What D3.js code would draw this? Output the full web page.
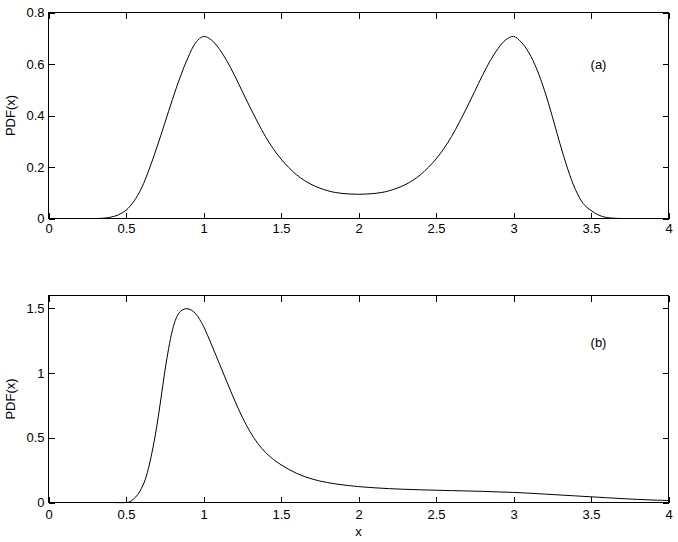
<!DOCTYPE html>
<html>
<head>
<meta charset="utf-8">
<script src="https://cdn.jsdelivr.net/npm/d3@7"></script>
<style>
  html, body { margin: 0; padding: 0; background: #fff; }
  svg text { font-family: "Liberation Sans", Arial, Helvetica, sans-serif; font-size: 13px; fill: #000; }
</style>
</head>
<body>
<svg id="chart" width="678" height="542"></svg>
<script>
// ---- Data ----
const xTicks = [0, 0.5, 1, 1.5, 2, 2.5, 3, 3.5, 4];
const yTicksA = [0, 0.2, 0.4, 0.6, 0.8];
const yTicksB = [0, 0.5, 1, 1.5];

const xA = [0.30,0.35,0.40,0.45,0.50,0.55,0.60,0.65,0.70,0.75,0.80,0.85,0.90,0.95,1.00,
            1.05,1.10,1.15,1.20,1.25,1.30,1.35,1.40,1.45,1.50,1.55,1.60,1.65,1.70,1.75,1.80,1.85,1.90,1.95,2.00,
            2.05,2.10,2.15,2.20,2.25,2.30,2.35,2.40,2.45,2.50,2.55,2.60,2.65,2.70,2.75,2.80,2.85,2.90,2.95,3.00,
            3.05,3.10,3.15,3.20,3.25,3.30,3.35,3.40,3.45,3.50,3.55,3.60,3.65,3.70];
const pdfA = [0.000,0.001,0.005,0.014,0.032,0.066,0.118,0.192,0.278,0.370,0.463,0.550,0.625,0.683,0.707,
              0.694,0.660,0.613,0.556,0.494,0.432,0.373,0.318,0.271,0.231,0.198,0.170,0.148,0.131,0.118,0.108,0.101,0.097,0.095,0.094,
              0.095,0.097,0.101,0.108,0.118,0.131,0.148,0.170,0.198,0.231,0.271,0.318,0.373,0.432,0.494,0.556,0.613,0.660,0.694,0.707,
              0.685,0.643,0.580,0.497,0.397,0.290,0.192,0.112,0.058,0.031,0.013,0.004,0.001,0.000];

const xB = [0.30,0.40,0.50,0.525,0.55,0.575,0.60,0.625,0.65,0.675,0.70,0.725,0.75,0.775,0.80,0.825,0.85,0.875,0.90,0.925,0.95,0.975,
            1.00,1.05,1.10,1.15,1.20,1.25,1.30,1.35,1.40,1.45,1.50,1.55,1.60,1.65,1.70,1.75,1.80,1.85,1.90,1.95,2.00,
            2.10,2.20,2.30,2.40,2.50,2.60,2.70,2.80,2.90,3.00,3.10,3.20,3.30,3.40,3.50,3.60,3.70,3.80,3.90,4.00];
const pdfB = [0.000,0.000,0.000,0.006,0.028,0.060,0.110,0.180,0.290,0.430,0.600,0.800,1.010,1.190,1.335,1.428,1.476,1.495,1.497,1.485,1.458,1.415,
              1.362,1.225,1.080,0.935,0.792,0.660,0.548,0.457,0.387,0.334,0.292,0.256,0.226,0.201,0.182,0.166,0.154,0.144,0.136,0.129,0.123,
              0.114,0.107,0.102,0.098,0.095,0.092,0.089,0.086,0.082,0.078,0.072,0.065,0.058,0.051,0.044,0.037,0.030,0.024,0.019,0.015];

// ---- Layout ----
const svg = d3.select("#chart");
const left = 48.5, right = 668.5;
const panels = [
  { top: 12.5, bottom: 218.5, ymax: 0.8, yTicks: yTicksA, xs: xA, ys: pdfA, tag: "(a)", tagY: 69, xPad: 5, xlabel: false },
  { top: 295.5, bottom: 502.5, ymax: 1.6, yTicks: yTicksB, xs: xB, ys: pdfB, tag: "(b)", tagY: 346.5, xPad: 7, xlabel: true }
];

const x = d3.scaleLinear().domain([0, 4]).range([left, right]);

panels.forEach(p => {
  const y = d3.scaleLinear().domain([0, p.ymax]).range([p.bottom, p.top]);
  const g = svg.append("g");

  const gb = g.append("g").attr("transform", `translate(0,${p.bottom})`)
    .call(d3.axisBottom(x).tickValues(xTicks).tickFormat(d3.format("")).tickSizeInner(-6).tickSizeOuter(0).tickPadding(p.xPad));
  const gt = g.append("g").attr("transform", `translate(0,${p.top})`)
    .call(d3.axisTop(x).tickValues(xTicks).tickFormat("").tickSizeInner(-6).tickSizeOuter(0));
  const gl = g.append("g").attr("transform", `translate(${left},0)`)
    .call(d3.axisLeft(y).tickValues(p.yTicks).tickFormat(d3.format("")).tickSizeInner(-6).tickSizeOuter(0).tickPadding(4));
  const gr = g.append("g").attr("transform", `translate(${right},0)`)
    .call(d3.axisRight(y).tickValues(p.yTicks).tickFormat("").tickSizeInner(-6).tickSizeOuter(0));

  [gb, gt, gl, gr].forEach(a => {
    a.select(".domain").remove();
    a.selectAll("line").attr("stroke", "#000").attr("shape-rendering", "crispEdges");
    a.selectAll("text").attr("font-size", 13).attr("font-family", '"Liberation Sans", Arial, sans-serif').attr("fill", "#000");
  });

  g.append("rect")
    .attr("x", left).attr("y", p.top)
    .attr("width", right - left).attr("height", p.bottom - p.top)
    .attr("fill", "none").attr("stroke", "#000").attr("stroke-width", 1)
    .attr("shape-rendering", "crispEdges");

  const pts = p.xs.map((d, i) => [d, p.ys[i]]);
  g.append("path")
    .datum(pts)
    .attr("fill", "none").attr("stroke", "#000").attr("stroke-width", 1)
    .attr("d", d3.line().x(d => x(d[0])).y(d => y(d[1])).curve(d3.curveCatmullRom.alpha(0.5)));

  g.append("text").attr("x", 598.5).attr("y", p.tagY).attr("text-anchor", "middle").text(p.tag);

  g.append("text")
    .attr("transform", `translate(15,${(p.top + p.bottom) / 2}) rotate(-90)`)
    .attr("text-anchor", "middle").text("PDF(x)");

  if (p.xlabel) {
    g.append("text").attr("x", x(2)).attr("y", 536).attr("text-anchor", "middle").text("x");
  }
});
</script>
</body>
</html>
